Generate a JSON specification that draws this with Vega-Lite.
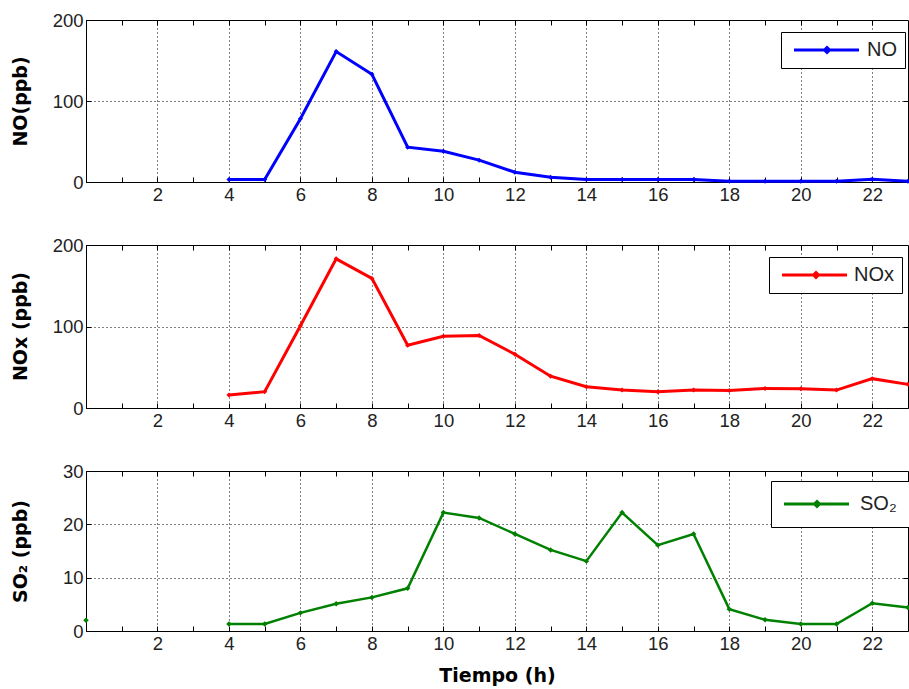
{
  "$schema": "https://vega.github.io/schema/vega-lite/v6.json",
  "padding": {"left": 10, "top": 10, "right": 0, "bottom": 0},
  "background": "white",
  "spacing": 63,
  "bounds": "flush",
  "resolve": {"scale": {"color": "independent"}, "legend": {"color": "independent"}},
  "config": {
    "view": {"stroke": "#000", "strokeWidth": 1},
    "font": "Liberation Sans",
    "axis": {
      "domainColor": "#000",
      "tickColor": "#000",
      "tickSize": -5,
      "labelFont": "Liberation Sans",
      "labelFontSize": 18.5,
      "labelColor": "#222",
      "titleFont": "DejaVu Sans",
      "titleFontWeight": "bold",
      "titleFontSize": 19,
      "titleColor": "#000",
      "gridColor": "#000",
      "gridDash": [1, 3],
      "gridWidth": 1
    },
    "legend": {
      "orient": "none",
      "title": null,
      "strokeColor": "#000",
      "fillColor": "white",
      "padding": 8,
      "cornerRadius": 0,
      "symbolSize": 100,
      "symbolStrokeWidth": 3,
      "labelFont": "Liberation Sans",
      "labelFontSize": 20,
      "labelColor": "#222"
    }
  },
  "vconcat": [
    {
      "width": 822,
      "height": 162,
      "data": {"values": [
        {"hour": 4, "value": 3, "gas": "NO"},
        {"hour": 5, "value": 3, "gas": "NO"},
        {"hour": 6, "value": 78, "gas": "NO"},
        {"hour": 7, "value": 161, "gas": "NO"},
        {"hour": 8, "value": 133, "gas": "NO"},
        {"hour": 9, "value": 43, "gas": "NO"},
        {"hour": 10, "value": 38, "gas": "NO"},
        {"hour": 11, "value": 27, "gas": "NO"},
        {"hour": 12, "value": 12, "gas": "NO"},
        {"hour": 13, "value": 6, "gas": "NO"},
        {"hour": 14, "value": 3, "gas": "NO"},
        {"hour": 15, "value": 3, "gas": "NO"},
        {"hour": 16, "value": 3, "gas": "NO"},
        {"hour": 17, "value": 3, "gas": "NO"},
        {"hour": 18, "value": 1, "gas": "NO"},
        {"hour": 19, "value": 1, "gas": "NO"},
        {"hour": 20, "value": 1, "gas": "NO"},
        {"hour": 21, "value": 1, "gas": "NO"},
        {"hour": 22, "value": 3.5, "gas": "NO"},
        {"hour": 23, "value": 1, "gas": "NO"}
      ]},
      "resolve": {"axis": {"x": "independent", "y": "independent"}},
      "layer": [
        {
          "mark": {"type": "line", "strokeWidth": 3, "clip": false, "point": {"shape": "diamond", "size": 25, "filled": true}},
          "encoding": {
            "x": {"field": "hour", "type": "quantitative", "scale": {"domain": [0, 23], "nice": false},
              "axis": {"title": null, "values": [1,2,3,4,5,6,7,8,9,10,11,12,13,14,15,16,17,18,19,20,21,22],
                "labelExpr": "datum.value % 2 === 0 ? datum.label : ''", "labelPadding": 8,
                "gridOpacity": {"condition": {"test": "datum.value % 2 === 0", "value": 1}, "value": 0}}},
            "y": {"field": "value", "type": "quantitative", "scale": {"domain": [0, 200], "nice": false},
              "axis": {"title": "NO(ppb)", "values": [0, 100, 200], "labelPadding": 8,
                "titleX": -66, "titleY": 81, "titleAngle": -90, "titleAlign": "center", "titleBaseline": "middle", "gridOpacity": 1}},
            "color": {"field": "gas", "type": "nominal", "scale": {"domain": ["NO"], "range": ["#0000ff"]},
              "legend": {"legendX": 695, "legendY": 12, "padding": 8, "labelOffset": 58,
                "symbolType": "M-1,0L12,0M5.6,-0.5L6.1,0L5.6,0.5L5.1,0Z"}}
          }
        },
        {
          "mark": {"type": "point", "opacity": 0},
          "encoding": {
            "x": {"field": "hour", "type": "quantitative", "axis": {"orient": "top", "title": null, "labels": false, "domain": false, "grid": false, "values": [1,2,3,4,5,6,7,8,9,10,11,12,13,14,15,16,17,18,19,20,21,22]}},
            "y": {"field": "value", "type": "quantitative", "axis": {"orient": "right", "title": null, "labels": false, "domain": false, "grid": false, "values": [100]}}
          }
        }
      ]
    },
    {
      "width": 822,
      "height": 163,
      "data": {"values": [
        {"hour": 4, "value": 16, "gas": "NOx"},
        {"hour": 5, "value": 20, "gas": "NOx"},
        {"hour": 6, "value": 101, "gas": "NOx"},
        {"hour": 7, "value": 183, "gas": "NOx"},
        {"hour": 8, "value": 159, "gas": "NOx"},
        {"hour": 9, "value": 77, "gas": "NOx"},
        {"hour": 10, "value": 88, "gas": "NOx"},
        {"hour": 11, "value": 89, "gas": "NOx"},
        {"hour": 12, "value": 66, "gas": "NOx"},
        {"hour": 13, "value": 39, "gas": "NOx"},
        {"hour": 14, "value": 26, "gas": "NOx"},
        {"hour": 15, "value": 22, "gas": "NOx"},
        {"hour": 16, "value": 20, "gas": "NOx"},
        {"hour": 17, "value": 22, "gas": "NOx"},
        {"hour": 18, "value": 21.5, "gas": "NOx"},
        {"hour": 19, "value": 24, "gas": "NOx"},
        {"hour": 20, "value": 23.5, "gas": "NOx"},
        {"hour": 21, "value": 22, "gas": "NOx"},
        {"hour": 22, "value": 36, "gas": "NOx"},
        {"hour": 23, "value": 29, "gas": "NOx"}
      ]},
      "resolve": {"axis": {"x": "independent", "y": "independent"}},
      "layer": [
        {
          "mark": {"type": "line", "strokeWidth": 3, "clip": false, "point": {"shape": "diamond", "size": 25, "filled": true}},
          "encoding": {
            "x": {"field": "hour", "type": "quantitative", "scale": {"domain": [0, 23], "nice": false},
              "axis": {"title": null, "values": [1,2,3,4,5,6,7,8,9,10,11,12,13,14,15,16,17,18,19,20,21,22],
                "labelExpr": "datum.value % 2 === 0 ? datum.label : ''", "labelPadding": 8,
                "gridOpacity": {"condition": {"test": "datum.value % 2 === 0", "value": 1}, "value": 0}}},
            "y": {"field": "value", "type": "quantitative", "scale": {"domain": [0, 200], "nice": false},
              "axis": {"title": "NOx (ppb)", "values": [0, 100, 200], "labelPadding": 8,
                "titleX": -66, "titleY": 81, "titleAngle": -90, "titleAlign": "center", "titleBaseline": "middle", "gridOpacity": 1}},
            "color": {"field": "gas", "type": "nominal", "scale": {"domain": ["NOx"], "range": ["#ff0000"]},
              "legend": {"legendX": 683, "legendY": 12, "padding": 8, "labelOffset": 57,
                "symbolType": "M-1,0L12,0M5.8,-0.5L6.3,0L5.8,0.5L5.3,0Z"}}
          }
        },
        {
          "mark": {"type": "point", "opacity": 0},
          "encoding": {
            "x": {"field": "hour", "type": "quantitative", "axis": {"orient": "top", "title": null, "labels": false, "domain": false, "grid": false, "values": [1,2,3,4,5,6,7,8,9,10,11,12,13,14,15,16,17,18,19,20,21,22]}},
            "y": {"field": "value", "type": "quantitative", "axis": {"orient": "right", "title": null, "labels": false, "domain": false, "grid": false, "values": [100]}}
          }
        }
      ]
    },
    {
      "width": 822,
      "height": 160,
      "data": {"values": [
        {"hour": 0, "value": 2, "gas": "SO₂", "seg": "a"},
        {"hour": 4, "value": 1.3, "gas": "SO₂", "seg": "b"},
        {"hour": 5, "value": 1.3, "gas": "SO₂", "seg": "b"},
        {"hour": 6, "value": 3.4, "gas": "SO₂", "seg": "b"},
        {"hour": 7, "value": 5.1, "gas": "SO₂", "seg": "b"},
        {"hour": 8, "value": 6.3, "gas": "SO₂", "seg": "b"},
        {"hour": 9, "value": 8, "gas": "SO₂", "seg": "b"},
        {"hour": 10, "value": 22.2, "gas": "SO₂", "seg": "b"},
        {"hour": 11, "value": 21.2, "gas": "SO₂", "seg": "b"},
        {"hour": 12, "value": 18.2, "gas": "SO₂", "seg": "b"},
        {"hour": 13, "value": 15.2, "gas": "SO₂", "seg": "b"},
        {"hour": 14, "value": 13.1, "gas": "SO₂", "seg": "b"},
        {"hour": 15, "value": 22.2, "gas": "SO₂", "seg": "b"},
        {"hour": 16, "value": 16.1, "gas": "SO₂", "seg": "b"},
        {"hour": 17, "value": 18.2, "gas": "SO₂", "seg": "b"},
        {"hour": 18, "value": 4.1, "gas": "SO₂", "seg": "b"},
        {"hour": 19, "value": 2.1, "gas": "SO₂", "seg": "b"},
        {"hour": 20, "value": 1.3, "gas": "SO₂", "seg": "b"},
        {"hour": 21, "value": 1.3, "gas": "SO₂", "seg": "b"},
        {"hour": 22, "value": 5.2, "gas": "SO₂", "seg": "b"},
        {"hour": 23, "value": 4.4, "gas": "SO₂", "seg": "b"}
      ]},
      "resolve": {"axis": {"x": "independent", "y": "independent"}},
      "layer": [
        {
          "mark": {"type": "line", "strokeWidth": 2.5, "clip": false, "point": {"shape": "diamond", "size": 30, "filled": true}},
          "encoding": {
            "x": {"field": "hour", "type": "quantitative", "scale": {"domain": [0, 23], "nice": false},
              "axis": {"title": "Tiempo (h)", "titlePadding": 14, "values": [1,2,3,4,5,6,7,8,9,10,11,12,13,14,15,16,17,18,19,20,21,22],
                "labelExpr": "datum.value % 2 === 0 ? datum.label : ''", "labelPadding": 8,
                "gridOpacity": {"condition": {"test": "datum.value % 2 === 0", "value": 1}, "value": 0}}},
            "y": {"field": "value", "type": "quantitative", "scale": {"domain": [0, 30], "nice": false},
              "axis": {"title": "SO₂ (ppb)", "values": [0, 10, 20, 30], "labelPadding": 8,
                "titleX": -66, "titleY": 80, "titleAngle": -90, "titleAlign": "center", "titleBaseline": "middle", "gridOpacity": 1}},
            "detail": {"field": "seg", "type": "nominal"},
            "color": {"field": "gas", "type": "nominal", "scale": {"domain": ["SO₂"], "range": ["#008000"]},
              "legend": {"legendX": 685, "legendY": 10, "padding": 13, "labelOffset": 56,
                "symbolType": "M-2,0L11,0M4.6,-0.5L5.1,0L4.6,0.5L4.1,0Z"}}
          }
        },
        {
          "mark": {"type": "point", "opacity": 0},
          "encoding": {
            "x": {"field": "hour", "type": "quantitative", "axis": {"orient": "top", "title": null, "labels": false, "domain": false, "grid": false, "values": [1,2,3,4,5,6,7,8,9,10,11,12,13,14,15,16,17,18,19,20,21,22]}},
            "y": {"field": "value", "type": "quantitative", "axis": {"orient": "right", "title": null, "labels": false, "domain": false, "grid": false, "values": [10, 20]}}
          }
        }
      ]
    }
  ]
}
